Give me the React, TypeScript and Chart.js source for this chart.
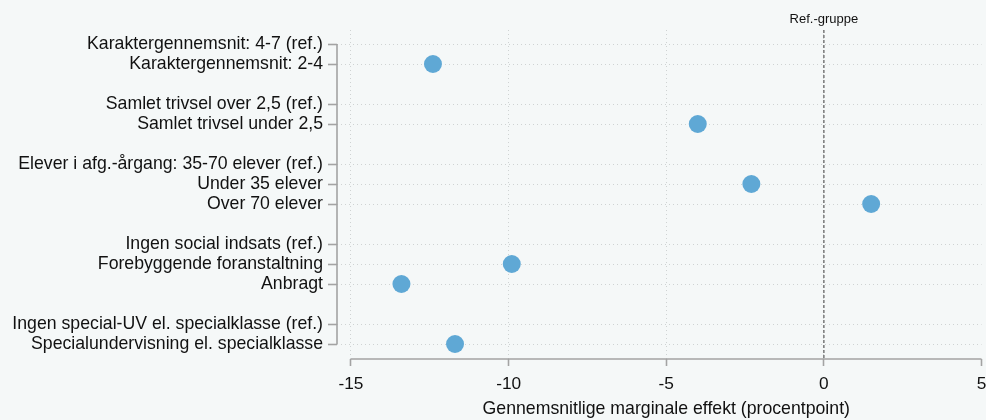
import React, { useEffect, useRef } from "react";
import { Chart, registerables } from "chart.js";

Chart.register(...registerables);

// Row labels (top to bottom) and their row positions (gaps between groups)
const categories: string[] = [
  "Karaktergennemsnit: 4-7 (ref.)",
  "Karaktergennemsnit: 2-4",
  "Samlet trivsel over 2,5 (ref.)",
  "Samlet trivsel under 2,5",
  "Elever i afg.-årgang: 35-70 elever (ref.)",
  "Under 35 elever",
  "Over 70 elever",
  "Ingen social indsats (ref.)",
  "Forebyggende foranstaltning",
  "Anbragt",
  "Ingen special-UV el. specialklasse (ref.)",
  "Specialundervisning el. specialklasse",
];
const rowPositions: number[] = [0, 1, 3, 4, 6, 7, 8, 10, 11, 12, 14, 15];
// Marginal effects (null = reference group, no marker)
const effects: (number | null)[] = [
  null, -12.4,
  null, -4.0,
  null, -2.3, 1.5,
  null, -9.9, -13.4,
  null, -11.7,
];
const xTicks: number[] = [-15, -10, -5, 0, 5];
const xTitle = "Gennemsnitlige marginale effekt (procentpoint)";
const refLabel = "Ref.-gruppe";

const FONT = "'Liberation Sans', Arial, sans-serif";
const BG = "#f5f8f8";
const DOT = "#5fa8d5";
const AXIS = "#a3a3a3";
const GRID = "#cfd3d3";

export default function App() {
  const ref = useRef<HTMLCanvasElement | null>(null);

  useEffect(() => {
    const canvas = ref.current;
    if (!canvas) return;
    const points = effects
      .map((v, i) => (v === null ? null : { x: v, y: rowPositions[i] }))
      .filter((p) => p !== null) as { x: number; y: number }[];

    const overlay = {
      id: "overlay",
      beforeDraw(chart: any) {
        const ctx = chart.ctx;
        ctx.save();
        ctx.fillStyle = BG;
        ctx.fillRect(0, 0, chart.width, chart.height);
        ctx.restore();
      },
      beforeDatasetsDraw(chart: any) {
        const ctx = chart.ctx;
        const xs = chart.scales.x;
        const ys = chart.scales.y;
        const area = chart.chartArea;
        ctx.save();
        // y axis line
        ctx.strokeStyle = AXIS;
        ctx.lineWidth = 1.6;
        ctx.beginPath();
        ctx.moveTo(area.left, ys.getPixelForValue(rowPositions[0]));
        ctx.lineTo(area.left, ys.getPixelForValue(rowPositions[rowPositions.length - 1]));
        ctx.stroke();
        // x axis line
        ctx.beginPath();
        ctx.moveTo(xs.getPixelForValue(xTicks[0]), area.bottom);
        ctx.lineTo(xs.getPixelForValue(xTicks[xTicks.length - 1]), area.bottom);
        ctx.stroke();
        // reference line at 0
        const x0 = xs.getPixelForValue(0);
        ctx.strokeStyle = "#666666";
        ctx.lineWidth = 1.3;
        ctx.setLineDash([3, 2]);
        ctx.beginPath();
        ctx.moveTo(x0, area.top);
        ctx.lineTo(x0, area.bottom);
        ctx.stroke();
        ctx.setLineDash([]);
        // ref label
        ctx.fillStyle = "#111111";
        ctx.font = `13px ${FONT}`;
        ctx.textAlign = "center";
        ctx.textBaseline = "middle";
        ctx.fillText(refLabel, x0, area.top - 11);
        // x title
        ctx.font = `17.7px ${FONT}`;
        ctx.fillStyle = "#111111";
        const xc = (xs.getPixelForValue(xTicks[0]) + xs.getPixelForValue(xTicks[xTicks.length - 1])) / 2;
        ctx.fillText(xTitle, xc, 409);
        ctx.restore();
      },
    };

    const chart = new Chart(canvas, {
      type: "scatter",
      data: {
        datasets: [
          {
            data: points,
            backgroundColor: DOT,
            borderColor: DOT,
            pointRadius: 9,
            pointHoverRadius: 9,
            borderWidth: 0,
          },
        ],
      },
      options: {
        animation: false,
        responsive: false,
        events: [],
        layout: { padding: { top: 30, left: 0, right: 18.5, bottom: 0 } },
        plugins: { legend: { display: false }, tooltip: { enabled: false } },
        scales: {
          x: {
            type: "linear",
            min: -15.444,
            max: 5,
            afterBuildTicks: (scale: any) => {
              scale.ticks = xTicks.map((v) => ({ value: v }));
            },
            afterFit: (scale: any) => {
              scale.height = 61;
            },
            ticks: {
              font: { size: 17.3, family: FONT },
              color: "#111111",
              padding: 8,
              maxRotation: 0,
              autoSkip: false,
            },
            grid: {
              color: (c: any) => (c.tick && c.tick.value === 5 ? "rgba(0,0,0,0)" : GRID),
              lineWidth: 1,
              drawTicks: true,
              tickLength: 7,
              tickColor: AXIS,
              tickWidth: 1.6,
            },
            border: { display: false, dash: [1, 3] },
          },
          y: {
            type: "linear",
            min: -0.7,
            max: 15.75,
            reverse: true,
            afterBuildTicks: (scale: any) => {
              scale.ticks = rowPositions.map((v) => ({ value: v }));
            },
            afterFit: (scale: any) => {
              scale.width = 337;
            },
            ticks: {
              font: { size: 17.7, family: FONT },
              color: "#111111",
              padding: 5,
              autoSkip: false,
              callback: (value: any) => {
                const i = rowPositions.indexOf(Number(value));
                return i >= 0 ? categories[i] : "";
              },
            },
            grid: {
              color: GRID,
              lineWidth: 1,
              drawTicks: true,
              tickLength: 9,
              tickColor: AXIS,
              tickWidth: 1.6,
            },
            border: { display: false, dash: [1, 3] },
          },
        },
      },
      plugins: [overlay],
    });
    return () => chart.destroy();
  }, []);

  return (
    <div
      style={{
        position: "fixed",
        left: 0,
        top: 0,
        width: 986,
        height: 420,
        overflow: "hidden",
        background: BG,
      }}
    >
      <canvas ref={ref} width={1000} height={420} style={{ display: "block" }} />
    </div>
  );
}
